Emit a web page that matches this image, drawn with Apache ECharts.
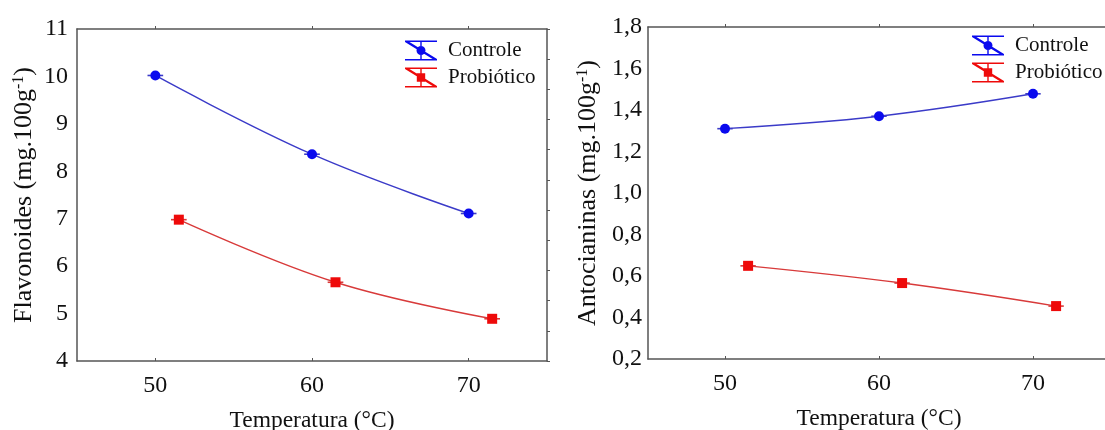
<!DOCTYPE html>
<html>
<head>
<meta charset="utf-8">
<script src="https://cdn.jsdelivr.net/npm/echarts@6/dist/echarts.min.js"></script>
<style>
html,body{margin:0;padding:0;background:#fff;}
#chart{width:1105px;height:430px;}
</style>
</head>
<body>
<div id="chart"></div>
<script>
// ---- data ----
const seriesNames = ['Controle', 'Probiótico'];
const xTicks = [50, 60, 70];
// Left chart: Flavonoides
const flavControleX = [50, 60, 70];
const flavControleY = [10.02, 8.36, 7.11];
const flavProbX = [51.5, 61.5, 71.5];
const flavProbY = [6.98, 5.66, 4.89];
// Right chart: Antocianinas
const antoControleX = [50, 60, 70];
const antoControleY = [1.31, 1.37, 1.478];
const antoProbX = [51.5, 61.5, 71.5];
const antoProbY = [0.649, 0.566, 0.455];
// horizontal error half-width (°C)
const xErr = 0.5;

const leftTitle = 'Flavonoides (mg.100g';
const rightTitle = 'Antocianinas (mg.100g';
const xTitle = 'Temperatura (°C)';

const FONT = '"Liberation Serif", "Times New Roman", serif';
const TXT = '#111';
const AX = '#555';
const BLUE = '#0a0aee';
const BLUE_LINE = '#3b3bc8';
const RED = '#ee0a0a';
const RED_LINE = '#d83a3a';

function pairs(xs, ys) { return xs.map((x, i) => [x, ys[i]]); }

const circIcon = 'path://M0 0H32V1.4H0Z M0 18.6H32V20H0Z M15.3 0H16.7V20H15.3Z M0 0L2 0L32 18.6L32 20L30 20L0 1.4Z M11.5 10A4.5 4.5 0 1 1 20.5 10A4.5 4.5 0 1 1 11.5 10Z';
const sqIcon = 'path://M0 0H32V1.4H0Z M0 18.6H32V20H0Z M15.3 0H16.7V20H15.3Z M0 0L2 0L32 18.6L32 20L30 20L0 1.4Z M11.8 5.8H20.2V14.2H11.8Z';

function errSeries(name, xs, ys, xi, yi, color) {
  return {
    type: 'custom', name: name, xAxisIndex: xi, yAxisIndex: yi, z: 3,
    silent: true,
    data: xs.map((x, i) => [x, ys[i]]),
    renderItem: function (params, api) {
      const x = api.value(0), y = api.value(1);
      const a = api.coord([x - xErr, y]);
      const b = api.coord([x + xErr, y]);
      return { type: 'line', shape: { x1: a[0], y1: a[1], x2: b[0], y2: b[1] },
        style: { stroke: color, lineWidth: 1.6 } };
    }
  };
}

function xAxisMain(gi) {
  return {
    type: 'value', gridIndex: gi, min: 45, max: 75, interval: 5,
    axisLine: { show: true, lineStyle: { color: AX, width: 1.5 } },
    axisTick: { show: true, inside: true, length: 3, customValues: xTicks, lineStyle: { color: AX } },
    splitLine: { show: false },
    axisLabel: { customValues: xTicks, formatter: v => (v % 10 === 0 ? String(v) : ''),
      fontFamily: FONT, fontSize: 24, color: TXT, margin: 13 },
    name: xTitle, nameLocation: 'middle', nameGap: 48,
    nameTextStyle: { fontFamily: FONT, fontSize: 23.5, color: TXT }
  };
}
function xAxisTop(gi) {
  return {
    type: 'value', gridIndex: gi, position: 'top', min: 45, max: 75, interval: 5,
    axisLine: { show: true, onZero: false, lineStyle: { color: AX, width: 1.5 } },
    axisTick: { show: true, inside: false, length: 3, customValues: xTicks, lineStyle: { color: AX } },
    axisLabel: { show: false }, splitLine: { show: false }
  };
}

const yNameRich = {
  a: { fontFamily: FONT, fontSize: 26, color: TXT },
  s: { fontFamily: FONT, fontSize: 16, color: TXT, verticalAlign: 'top', padding: [0, 0, 11, 0] }
};

const legendText = { fontFamily: FONT, fontSize: 21, color: TXT, lineHeight: 20, padding: [0, 0, 0, 6] };

const option = {
  backgroundColor: '#fff',
  animation: false,
  grid: [
    { left: 77, top: 29, width: 470, height: 332, containLabel: false, outerBoundsMode: 'none' },
    { left: 648, top: 27, width: 462, height: 332, containLabel: false, outerBoundsMode: 'none' }
  ],
  legend: [
    { orient: 'vertical', left: 405, top: 40, padding: 0, itemWidth: 32, itemHeight: 20, itemGap: 6,
      textStyle: legendText,
      data: [{ name: seriesNames[0], icon: circIcon }, { name: seriesNames[1], icon: sqIcon }] },
    { orient: 'vertical', left: 972, top: 35, padding: 0, itemWidth: 32, itemHeight: 20, itemGap: 6,
      textStyle: legendText,
      data: [{ name: seriesNames[0], icon: circIcon }, { name: seriesNames[1], icon: sqIcon }] }
  ],
  xAxis: [xAxisMain(0), xAxisTop(0), xAxisMain(1), xAxisTop(1)],
  yAxis: [
    { type: 'value', gridIndex: 0, min: 4, max: 11, interval: 1,
      axisLine: { show: true, onZero: false, lineStyle: { color: AX, width: 1.5 } },
      axisTick: { show: false }, splitLine: { show: false },
      axisLabel: { fontFamily: FONT, fontSize: 24, color: TXT, margin: 9, padding: [4, 0, 0, 0] },
      name: '{a|' + leftTitle + '}{s|-1}{a|)}', nameLocation: 'middle', nameGap: 39,
      nameTextStyle: { rich: yNameRich } },
    { type: 'value', gridIndex: 0, position: 'right', min: 0, max: 11, interval: 1,
      axisLine: { show: true, onZero: false, lineStyle: { color: AX, width: 1.5 } },
      axisTick: { show: true, inside: false, length: 3, lineStyle: { color: AX } },
      axisLabel: { show: false }, splitLine: { show: false } },
    { type: 'value', gridIndex: 1, min: 0.2, max: 1.8, interval: 0.2,
      axisLine: { show: true, onZero: false, lineStyle: { color: AX, width: 1.5 } },
      axisTick: { show: false }, splitLine: { show: false },
      axisLabel: { fontFamily: FONT, fontSize: 24, color: TXT, margin: 6,
        formatter: v => v.toFixed(1).replace('.', ',') },
      name: '{a|' + rightTitle + '}{s|-1}{a|)}', nameLocation: 'middle', nameGap: 46,
      nameTextStyle: { rich: yNameRich } },
    { type: 'value', gridIndex: 1, position: 'right', min: 0, max: 10, interval: 1,
      axisLine: { show: true, onZero: false, lineStyle: { color: AX, width: 1.5 } },
      axisTick: { show: false }, axisLabel: { show: false }, splitLine: { show: false } }
  ],
  series: [
    { name: seriesNames[0], type: 'line', xAxisIndex: 0, yAxisIndex: 0, smooth: 0.4,
      data: pairs(flavControleX, flavControleY), symbol: 'circle', symbolSize: 10,
      itemStyle: { color: BLUE }, lineStyle: { color: BLUE_LINE, width: 1.4 }, z: 4 },
    { name: seriesNames[1], type: 'line', xAxisIndex: 0, yAxisIndex: 0, smooth: 0.4,
      data: pairs(flavProbX, flavProbY), symbol: 'rect', symbolSize: 10,
      itemStyle: { color: RED }, lineStyle: { color: RED_LINE, width: 1.4 }, z: 4 },
    errSeries(seriesNames[0], flavControleX, flavControleY, 0, 0, BLUE_LINE),
    errSeries(seriesNames[1], flavProbX, flavProbY, 0, 0, RED_LINE),
    { name: seriesNames[0], type: 'line', xAxisIndex: 2, yAxisIndex: 2, smooth: 0.4,
      data: pairs(antoControleX, antoControleY), symbol: 'circle', symbolSize: 10,
      itemStyle: { color: BLUE }, lineStyle: { color: BLUE_LINE, width: 1.4 }, z: 4 },
    { name: seriesNames[1], type: 'line', xAxisIndex: 2, yAxisIndex: 2, smooth: 0.4,
      data: pairs(antoProbX, antoProbY), symbol: 'rect', symbolSize: 10,
      itemStyle: { color: RED }, lineStyle: { color: RED_LINE, width: 1.4 }, z: 4 },
    errSeries(seriesNames[0], antoControleX, antoControleY, 2, 2, BLUE_LINE),
    errSeries(seriesNames[1], antoProbX, antoProbY, 2, 2, RED_LINE)
  ]
};

const chart = echarts.init(document.getElementById('chart'), null, { renderer: 'canvas' });
chart.setOption(option);
</script>
</body>
</html>
